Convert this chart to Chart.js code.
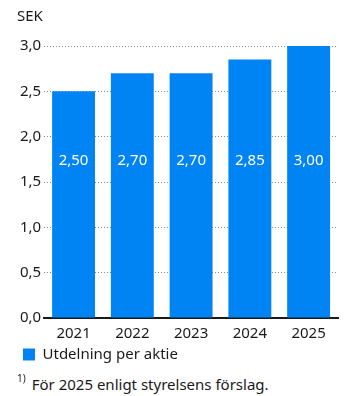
<!DOCTYPE html>
<html>
<head>
<meta charset="utf-8">
<script src="https://cdn.jsdelivr.net/npm/chart.js@4"></script>
<style>
  body { margin: 0; background: #fff; font-family: "Noto Sans", sans-serif; }
  #wrap { position: relative; width: 352px; height: 372px; }
  #note { position: absolute; left: 17px; top: 373px; font-size: 15px; color: #1a1a1a; }
  #note sup { font-size: 10px; position: relative; top: -2px; margin-right: 6px; }
</style>
</head>
<body>
<div id="wrap"><canvas id="divChart"></canvas></div>
<div id="note"><sup>1)</sup>För 2025 enligt styrelsens förslag.</div>
<script>
const years = ['2021', '2022', '2023', '2024', '2025'];
const dividend = [2.50, 2.70, 2.70, 2.85, 3.00];
const seriesName = 'Utdelning per aktie';
const unit = 'SEK';

const blue = '#0084f4';
const textColor = '#1a1a1a';
const fmt = (v, d) => v.toFixed(d).replace('.', ',');

// white value labels, all at the same height inside the bars
const valueLabels = {
    id: 'valueLabels',
    afterDatasetsDraw(chart) {
        const ctx = chart.ctx;
        const y = chart.scales.y.getPixelForValue(1.73);
        ctx.save();
        ctx.fillStyle = '#fff';
        ctx.font = '15px "Noto Sans"';
        ctx.textAlign = 'center';
        ctx.textBaseline = 'middle';
        chart.getDatasetMeta(0).data.forEach((bar, i) => {
            ctx.fillText(fmt(dividend[i], 2), bar.x, y);
        });
        ctx.restore();
    }
};

new Chart(document.getElementById('divChart').getContext('2d'), {
    type: 'bar',
    data: {
        labels: years,
        datasets: [{
            label: seriesName,
            data: dividend,
            backgroundColor: blue,
            categoryPercentage: 1,
            barPercentage: 0.73
        }]
    },
    options: {
        responsive: true,
        maintainAspectRatio: false,
        animation: false,
        layout: { padding: { left: 17, right: 14, top: 8, bottom: 0 } },
        plugins: {
            title: {
                display: true,
                text: unit,
                align: 'start',
                color: textColor,
                font: { family: 'Noto Sans', size: 15, weight: 'normal' },
                padding: { top: 0, bottom: 20 }
            },
            legend: {
                position: 'bottom',
                align: 'start',
                labels: {
                    boxWidth: 12,
                    boxHeight: 12,
                    color: textColor,
                    font: { family: 'Noto Sans', size: 15 },
                    padding: 6
                }
            },
            tooltip: { enabled: false }
        },
        scales: {
            x: {
                grid: { display: false },
                border: { display: true, color: '#1a1a1a', width: 2 },
                ticks: { color: textColor, font: { family: 'Noto Sans', size: 15, lineHeight: 1 }, padding: 0 }
            },
            y: {
                min: 0,
                max: 3,
                ticks: {
                    stepSize: 0.5,
                    color: textColor,
                    font: { family: 'Noto Sans', size: 15 },
                    padding: 3,
                    callback: v => fmt(v, 1)
                },
                border: { display: false, dash: [1, 2] },
                grid: { color: '#888', lineWidth: 1, drawTicks: false }
            }
        }
    },
    plugins: [valueLabels]
});
</script>
</body>
</html>
